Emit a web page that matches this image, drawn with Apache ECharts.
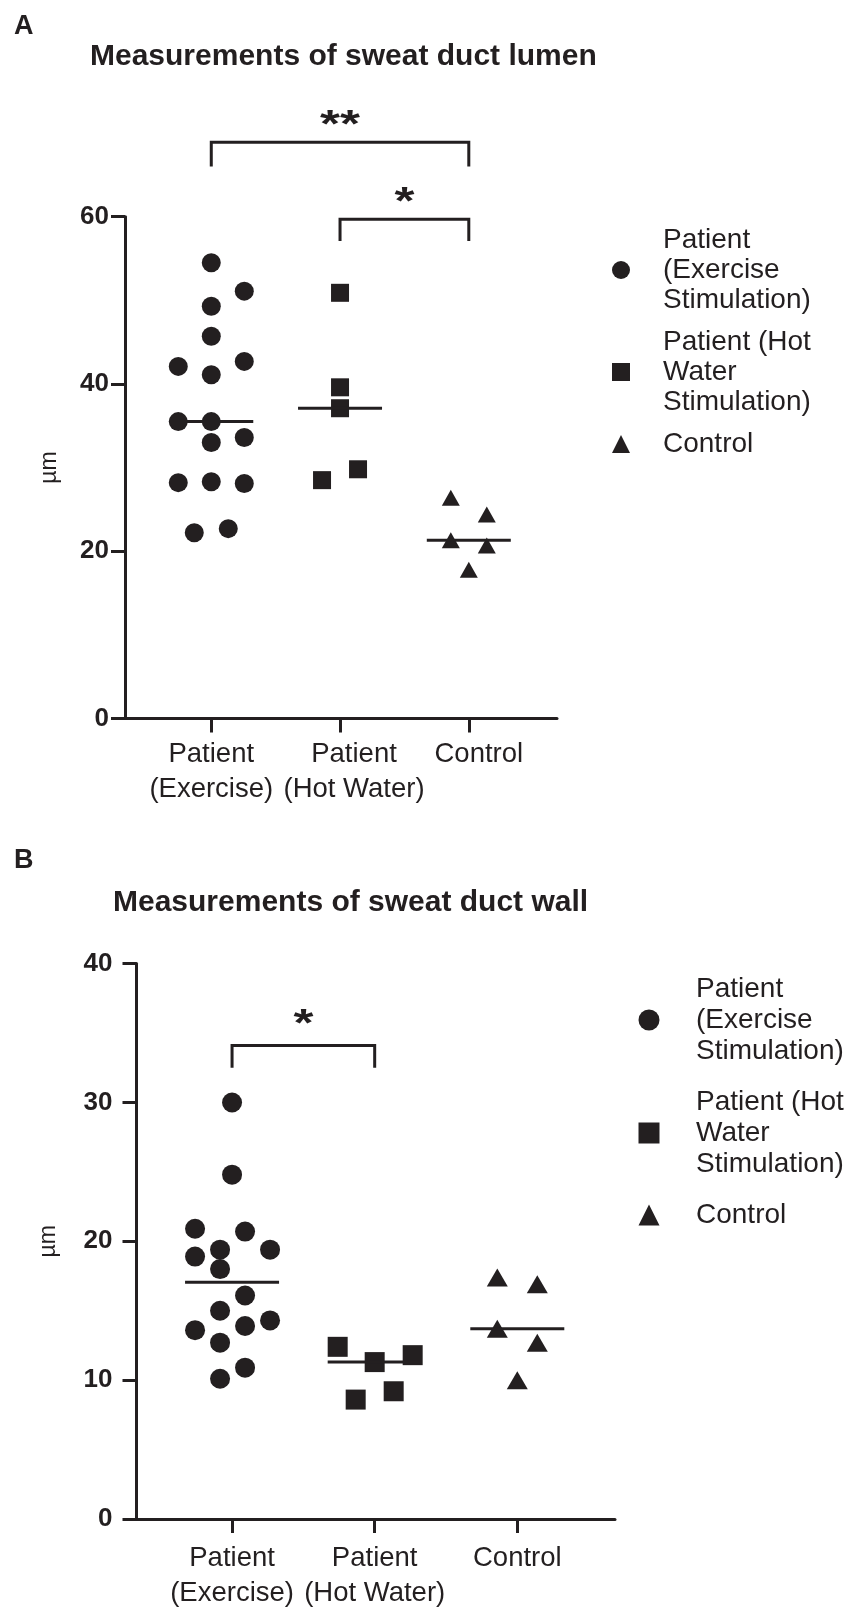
<!DOCTYPE html>
<html>
<head>
<meta charset="utf-8">
<script src="https://cdn.jsdelivr.net/npm/echarts@6/dist/echarts.min.js"></script>
<style>
  html, body { margin: 0; padding: 0; background: #fff; }
  #chart { width: 851px; height: 1614px; }
</style>
</head>
<body>
<div id="chart"></div>
<script>
// groups on the x axis
const categories = ['Patient\n(Exercise)', 'Patient\n(Hot Water)', 'Control']
const seriesNames = ['Patient (Exercise Stimulation)', 'Patient (Hot Water Stimulation)', 'Control']
const legendLabels = ['Patient\n(Exercise\nStimulation)', 'Patient (Hot\nWater\nStimulation)', 'Control']
const symbols = ['circle', 'rect', 'triangle']

// A - sweat duct lumen (µm)
const lumenExercise = [54.5, 51.1, 49.3, 45.7, 42.1, 42.7, 41.1, 35.5, 35.5, 33.0, 33.6, 28.2, 28.3, 28.1, 22.2, 22.7]
const lumenHotWater = [50.9, 39.6, 37.1, 28.5, 29.8]
const lumenControl = [26.4, 24.4, 21.3, 20.7, 17.8]
const lumenTicks = [0, 20, 40, 60]
// [from group, to group, bracket top, leg end, label]
const lumenSig = [[1, 3, 68.9, 66.0, '**'], [2, 3, 59.7, 57.1, '*']]

// B - sweat duct wall (µm)
const wallExercise = [30.0, 24.8, 20.9, 20.7, 19.4, 18.9, 19.4, 18.0, 16.1, 15.0, 13.6, 13.9, 14.3, 12.7, 10.9, 10.1]
const wallHotWater = [12.4, 11.3, 11.8, 8.6, 9.2]
const wallControl = [17.4, 16.9, 13.7, 12.7, 10.0]
const wallTicks = [0, 10, 20, 30, 40]
const wallSig = [[1, 2, 34.1, 32.5, '*']]

// horizontal spread of the points (px), like the original dot plot
const lumenJitter = [
  [0, 33, 0, 0, -33, 33, 0, -33, 0, 0, 33, -33, 0, 33, -17, 17],
  [0, 0, 0, -18, 18],
  [-18, 18, -18, 18, 0]
]
const wallJitter = [
  [0, 0, -37, 13, -12, -37, 38, -12, 13, -12, -37, 13, 38, -12, 13, -12],
  [-37, 0, 38, -19, 19],
  [-20, 20, -20, 20, 0]
]

const ink = '#231f20'
const font = '"Liberation Sans", Arial, Helvetica, sans-serif'
const xMin = 0.33
const xMax = 3.685

function median (arr) {
  const s = [...arr].sort((a, b) => a - b)
  const m = s.length >> 1
  return s.length % 2 ? s[m] : (s[m - 1] + s[m]) / 2
}

const panels = [
  {
    groups: [lumenExercise, lumenHotWater, lumenControl],
    jitter: lumenJitter,
    ticks: lumenTicks,
    sig: lumenSig,
    grid: { left: 125, top: 216.7, width: 432, height: 501.8 },
    sizes: [19, 18, [18, 16]],
    half: 42,
    nameGap: 64,
    labelMargin: 16,
    catMargin: 18,
    catShift: [0, 14, 10], // the narrow panel pushes the labels right a little
    sigGap: 16
  },
  {
    groups: [wallExercise, wallHotWater, wallControl],
    jitter: wallJitter,
    ticks: wallTicks,
    sig: wallSig,
    grid: { left: 136.5, top: 963.6, width: 478.5, height: 555.4 },
    sizes: [20, 20, [21, 18]],
    half: 47,
    nameGap: 76,
    labelMargin: 24,
    catMargin: 22,
    catShift: [0, 0, 0],
    sigGap: 20
  }
]

const grid = []
const xAxis = []
const yAxis = []
const series = []

panels.forEach((p, pi) => {
  grid.push(p.grid)
  xAxis.push({
    type: 'value',
    gridIndex: pi,
    min: xMin,
    max: xMax,
    splitLine: { show: false },
    axisLine: { show: true, lineStyle: { color: ink, width: 3 } },
    axisTick: { show: true, customValues: [1, 2, 3], length: 14, lineStyle: { color: ink, width: 3 } },
    axisLabel: { show: false }
  })
  yAxis.push({
    type: 'value',
    gridIndex: pi,
    min: p.ticks[0],
    max: p.ticks[p.ticks.length - 1],
    interval: p.ticks[1] - p.ticks[0],
    name: 'µm',
    nameLocation: 'middle',
    nameRotate: 90,
    nameGap: p.nameGap,
    nameTextStyle: { color: ink, fontFamily: font, fontSize: 23 },
    splitLine: { show: false },
    axisLine: { show: true, lineStyle: { color: ink, width: 3 } },
    axisTick: { show: true, length: 14, lineStyle: { color: ink, width: 3 } },
    axisLabel: { margin: p.labelMargin, color: ink, fontFamily: font, fontSize: 26, fontWeight: 'bold' }
  })

  p.groups.forEach((g, gi) => {
    series.push({
      type: 'scatter',
      name: seriesNames[gi],
      xAxisIndex: pi,
      yAxisIndex: pi,
      symbol: symbols[gi],
      symbolSize: p.sizes[gi],
      itemStyle: { color: ink, opacity: 1 },
      data: g.map((v, i) => ({ value: [gi + 1, v], symbolOffset: [p.jitter[gi][i], 0] }))
    })
  })

  // median lines
  series.push({
    type: 'custom',
    xAxisIndex: pi,
    yAxisIndex: pi,
    z: 5,
    data: p.groups.map((g, gi) => [gi + 1, median(g)]),
    renderItem: (params, api) => {
      const c = api.coord([api.value(0), api.value(1)])
      return {
        type: 'line',
        shape: { x1: c[0] - p.half, y1: c[1], x2: c[0] + p.half, y2: c[1] },
        style: { stroke: ink, lineWidth: 3 }
      }
    }
  })

  // significance brackets
  series.push({
    type: 'custom',
    xAxisIndex: pi,
    yAxisIndex: pi,
    clip: false,
    data: p.sig.map(s => s.slice(0, 4)),
    renderItem: (params, api) => {
      const a = api.coord([api.value(0), api.value(2)])
      const b = api.coord([api.value(1), api.value(2)])
      const leg = api.coord([api.value(0), api.value(3)])[1]
      return {
        type: 'group',
        children: [
          {
            type: 'polyline',
            shape: { points: [[a[0], leg], [a[0], a[1]], [b[0], b[1]], [b[0], leg]] },
            style: { stroke: ink, lineWidth: 3, fill: null }
          },
          {
            type: 'text',
            x: (a[0] + b[0]) / 2,
            y: a[1] - p.sigGap,
            scaleX: 1.35,
            style: {
              text: p.sig[params.dataIndex][4],
              x: 0,
              y: 0,
              align: 'center',
              verticalAlign: 'middle',
              fontFamily: font,
              fontSize: 38,
              fontWeight: 'bold',
              fill: ink
            }
          }
        ]
      }
    }
  })
})

// group names sit on their own category band lined up with the value axis ticks,
// so that all three are always drawn
panels.forEach((p, pi) => {
  const step = p.grid.width / (xMax - xMin)
  const catText = { color: ink, fontFamily: font, fontSize: 27.5, lineHeight: 35 }
  const rich = {}
  p.catShift.forEach((s, i) => {
    rich['c' + i] = Object.assign({ padding: [0, 0, 0, 2 * s] }, catText)
  })
  const gi = grid.length
  grid.push({
    left: p.grid.left + (1 - xMin) * step - step / 2,
    width: 3 * step,
    top: p.grid.top + p.grid.height - 10,
    height: 10
  })
  xAxis.push({
    type: 'category',
    gridIndex: gi,
    data: categories,
    axisLine: { show: false },
    axisTick: { show: false },
    splitLine: { show: false },
    axisLabel: Object.assign({
      interval: 0,
      margin: p.catMargin,
      formatter: (v, i) => v.split('\n').map(t => '{c' + i + '|' + t + '}').join('\n'),
      rich
    }, catText)
  })
  yAxis.push({ type: 'value', gridIndex: gi, show: false })
})

const titleStyle = size => ({ color: ink, fontFamily: font, fontSize: size, fontWeight: 'bold' })

const legendBase = {
  orient: 'vertical',
  padding: 0,
  selectedMode: false,
  data: seriesNames.map((n, i) => ({ name: n, icon: symbols[i], itemStyle: { color: ink } })),
  formatter: n => legendLabels[seriesNames.indexOf(n)]
}

const chart = echarts.init(document.getElementById('chart'))
chart.setOption({
  animation: false,
  backgroundColor: '#fff',
  title: [
    { text: 'A', left: 14, top: 13, padding: 0, textStyle: titleStyle(27) },
    { text: 'Measurements of sweat duct lumen', left: 90, top: 42, padding: 0, textStyle: titleStyle(30) },
    { text: 'B', left: 14, top: 847, padding: 0, textStyle: titleStyle(27) },
    { text: 'Measurements of sweat duct wall', left: 113, top: 888, padding: 0, textStyle: titleStyle(30) }
  ],
  legend: [
    Object.assign({}, legendBase, {
      left: 612,
      top: 225,
      itemWidth: 18,
      itemHeight: 18,
      itemGap: 12,
      textStyle: { color: ink, fontFamily: font, fontSize: 28, lineHeight: 30, padding: [0, 0, 0, 28] }
    }),
    Object.assign({}, legendBase, {
      left: 638.5,
      top: 973.5,
      itemWidth: 21,
      itemHeight: 21,
      itemGap: 20,
      textStyle: { color: ink, fontFamily: font, fontSize: 28, lineHeight: 31, padding: [0, 0, 0, 31.5] }
    })
  ],
  grid,
  xAxis,
  yAxis,
  series
})
</script>
</body>
</html>
